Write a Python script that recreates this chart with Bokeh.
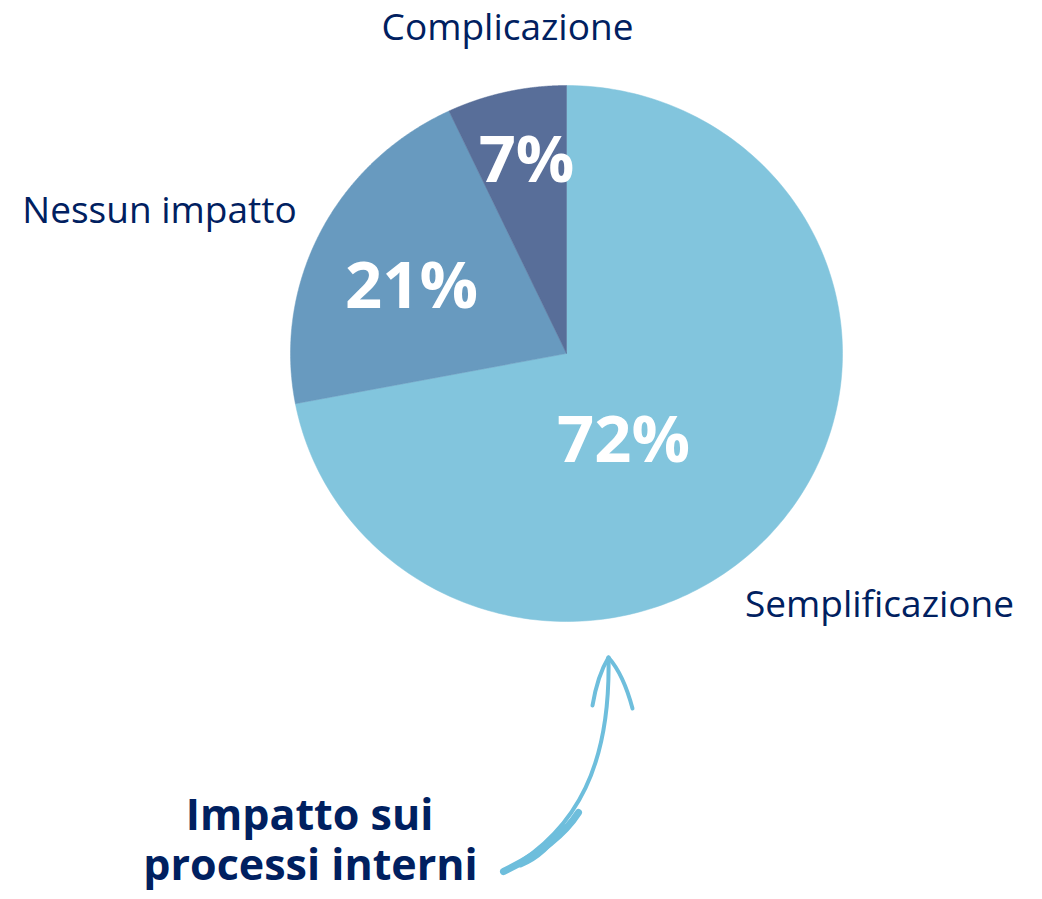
import numpy as np
from bokeh.plotting import figure
from bokeh.models import Range1d, ColumnDataSource
from bokeh.core.properties import value
from bokeh.embed import file_html
from bokeh.resources import INLINE

# ---- data ----
categories = ["Semplificazione", "Nessun impatto", "Complicazione"]
values = [72, 21, 7]
title_lines = ["Impatto sui", "processi interni"]

# ---- styles / layout ----
slice_colors = ["#82C5DD", "#689ABF", "#586E99"]
navy = "#002060"
arrow_color = "#6EBEDC"
FONT = "Open Sans"

W, H = 1034, 897
p = figure(width=W, height=H,
           x_range=Range1d(0, W), y_range=Range1d(H, 0),
           output_backend="svg", toolbar_location=None, min_border=0,
           x_axis_location=None, y_axis_location=None)
p.grid.visible = False
p.outline_line_color = None
p.background_fill_color = "white"
p.border_fill_color = "white"

# ---- pie (ellipse centred at cx, cy) ----
cx, cy, rx, ry = 566, 353, 276, 268
fr = np.cumsum([0] + values) / sum(values)
xs, ys = [], []
for a, b in zip(fr[:-1], fr[1:]):
    t = np.linspace(a, b, 240) * 2 * np.pi
    xs.append([cx] + list(cx + rx * np.sin(t)))
    ys.append([cy] + list(cy - ry * np.cos(t)))
pie_src = ColumnDataSource(dict(xs=xs, ys=ys, color=slice_colors, cat=categories))
p.patches("xs", "ys", source=pie_src, fill_color="color", line_color="color", line_width=0.5)

# ---- percentage labels ----
pct_pos_x = [623, 411, 526]
pct_pos_y = [436, 282, 156]
pct_src = ColumnDataSource(dict(x=pct_pos_x, y=pct_pos_y, t=[f"{v}%" for v in values]))
p.text("x", "y", text="t", source=pct_src, text_color="white",
       text_font=value(FONT), text_font_style="bold", text_font_size="65px",
       text_align="center", text_baseline="alphabetic")

# ---- category labels ----
cat_pos_x = [879, 159, 507]
cat_pos_y = [602, 208, 25]
cat_src = ColumnDataSource(dict(x=cat_pos_x, y=cat_pos_y, t=categories))
p.text("x", "y", text="t", source=cat_src, text_color=navy,
       text_font=value(FONT), text_font_size="37px",
       text_align="center", text_baseline="alphabetic")

# ---- bold caption ----
cap_src = ColumnDataSource(dict(x=[309, 310], y=[813, 863], t=title_lines))
p.text("x", "y", text="t", source=cap_src, text_color=navy,
       text_font=value(FONT), text_font_style="bold", text_font_size="43px",
       text_align="center", text_baseline="alphabetic")

# ---- hand-drawn arrow ----
p.bezier(x0=[502], y0=[872], x1=[608], y1=[657],
         cx0=[580], cy0=[830], cx1=[610], cy1=[760],
         line_color=arrow_color, line_width=4, line_cap="round")
# brush-like thicker tail
p.bezier(x0=[503], y0=[871], x1=[578], y1=[812],
         cx0=[530], cy0=[858], cx1=[560], cy1=[840],
         line_color=arrow_color, line_width=7, line_cap="round")
p.bezier(x0=[520], y0=[864], x1=[562], y1=[826],
         cx0=[540], cy0=[856], cx1=[552], cy1=[842],
         line_color=arrow_color, line_width=6, line_cap="round")
# arrow head
p.quadratic(x0=[592, 608], y0=[705, 657], x1=[608, 632], y1=[657, 708],
            cx=[597, 623], cy=[675, 674],
            line_color=arrow_color, line_width=4, line_cap="round")

open("out.html", "w").write(file_html(p, INLINE))
